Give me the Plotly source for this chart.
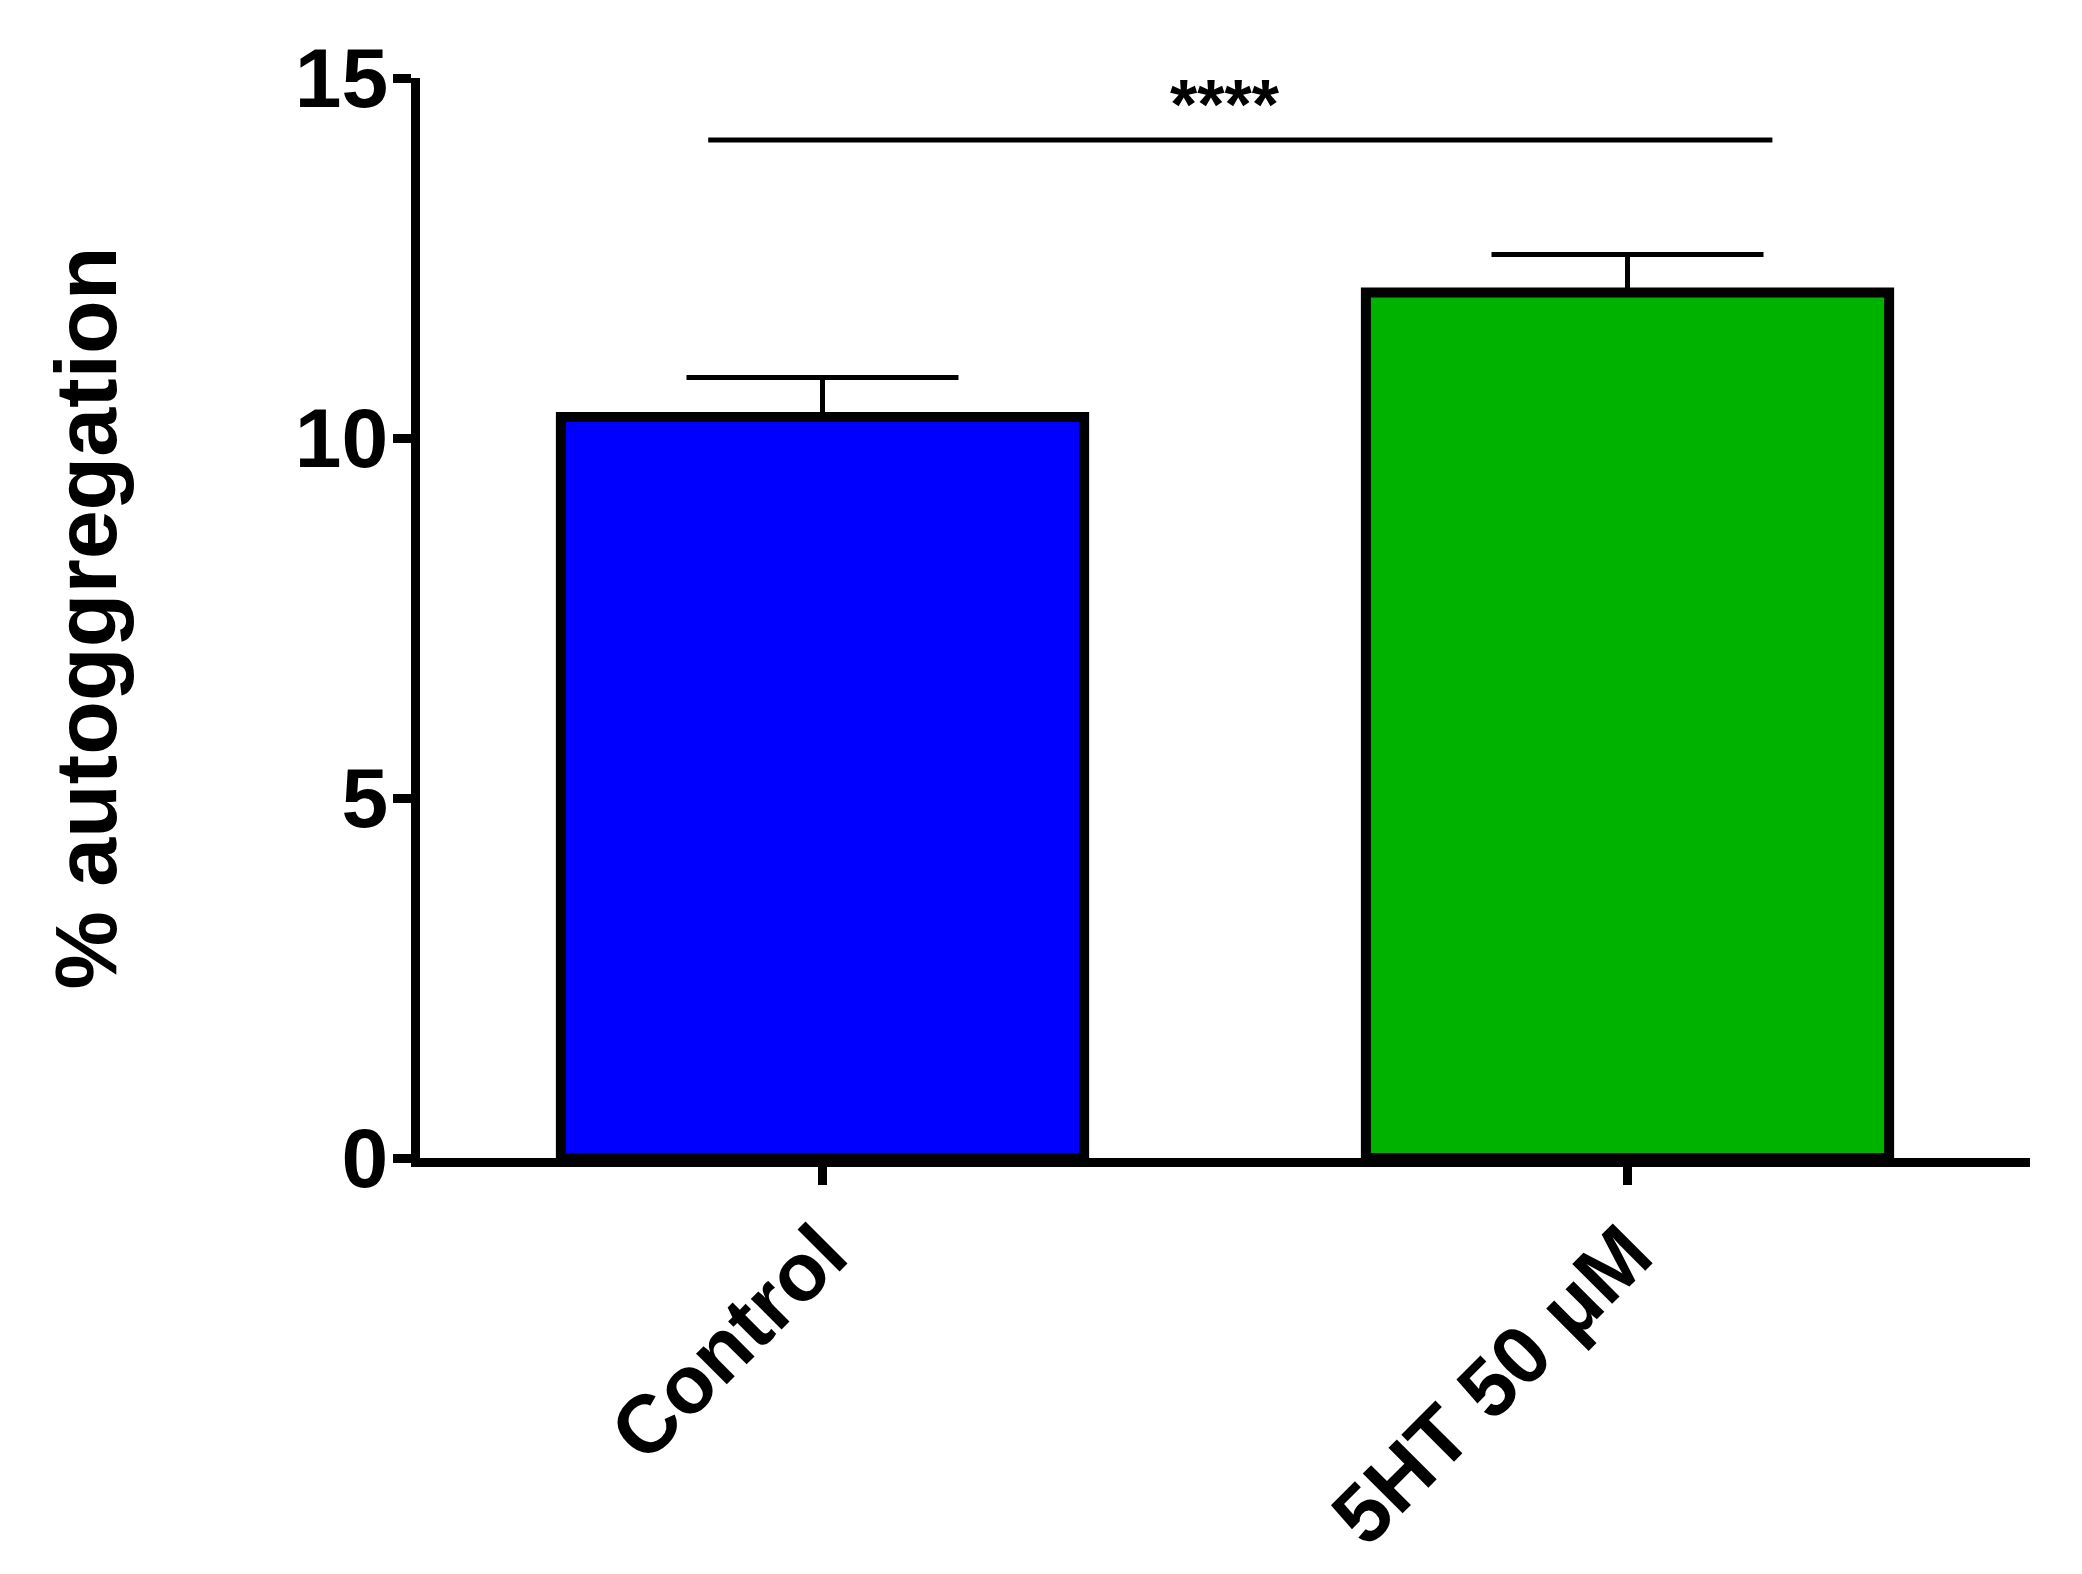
import plotly.graph_objects as go

categories = ["Control", "5HT 50 μM"]
means = [10.29, 12.02]
sem = [0.55, 0.53]
bar_colors = ["#0000FF", "#00B200"]
y_ticks = [0, 5, 10, 15]
sig_label = "****"

FONT = "Arial, 'Liberation Sans', Helvetica, sans-serif"

fig = go.Figure()
fig.add_trace(go.Bar(
    x=[0, 1],
    y=means,
    width=0.65,
    marker=dict(color=bar_colors, line=dict(color="black", width=10)),
    error_y=dict(type="data", array=sem, arrayminus=[0, 0], symmetric=False,
                 color="black", thickness=5, width=136),
    showlegend=False,
))

# significance bracket
fig.add_shape(type="line", xref="x", yref="y", x0=-0.142, x1=1.18, y0=14.14, y1=14.14,
              line=dict(color="black", width=5))
fig.add_annotation(x=0.5, y=14.62, xref="x", yref="y", text=sig_label, showarrow=False,
                   font=dict(family=FONT, size=70, color="black", weight="bold"))

fig.update_layout(
    width=2074, height=1566,
    margin=dict(l=412, r=52, t=70, b=416),
    paper_bgcolor="white", plot_bgcolor="white",
    font=dict(family=FONT, color="black", weight="bold"),
    bargap=0.35,
)
fig.update_xaxes(
    range=[-0.5, 1.5],
    tickmode="array", tickvals=[0, 1], ticktext=categories,
    tickangle=-45,
    tickfont=dict(family=FONT, size=82, color="black", weight="bold"),
    showline=True, linecolor="black", linewidth=9,
    ticks="outside", ticklen=18, tickwidth=9, tickcolor="black",
    ticklabelstandoff=-12,
    showgrid=False, zeroline=False, automargin=False,
)
fig.update_yaxes(
    range=[0, 15],
    tickmode="array", tickvals=y_ticks, ticktext=[str(v) for v in y_ticks],
    tickfont=dict(family=FONT, size=84, color="black", weight="bold"),
    showline=True, linecolor="black", linewidth=9,
    ticks="outside", ticklen=18, tickwidth=9, tickcolor="black",
    ticklabelstandoff=-12,
    showgrid=False, zeroline=False, automargin=False,
    title=dict(text="% autoggregation", standoff=152,
               font=dict(family=FONT, size=88, color="black", weight="bold")),
)

fig.write_html("out.html")
